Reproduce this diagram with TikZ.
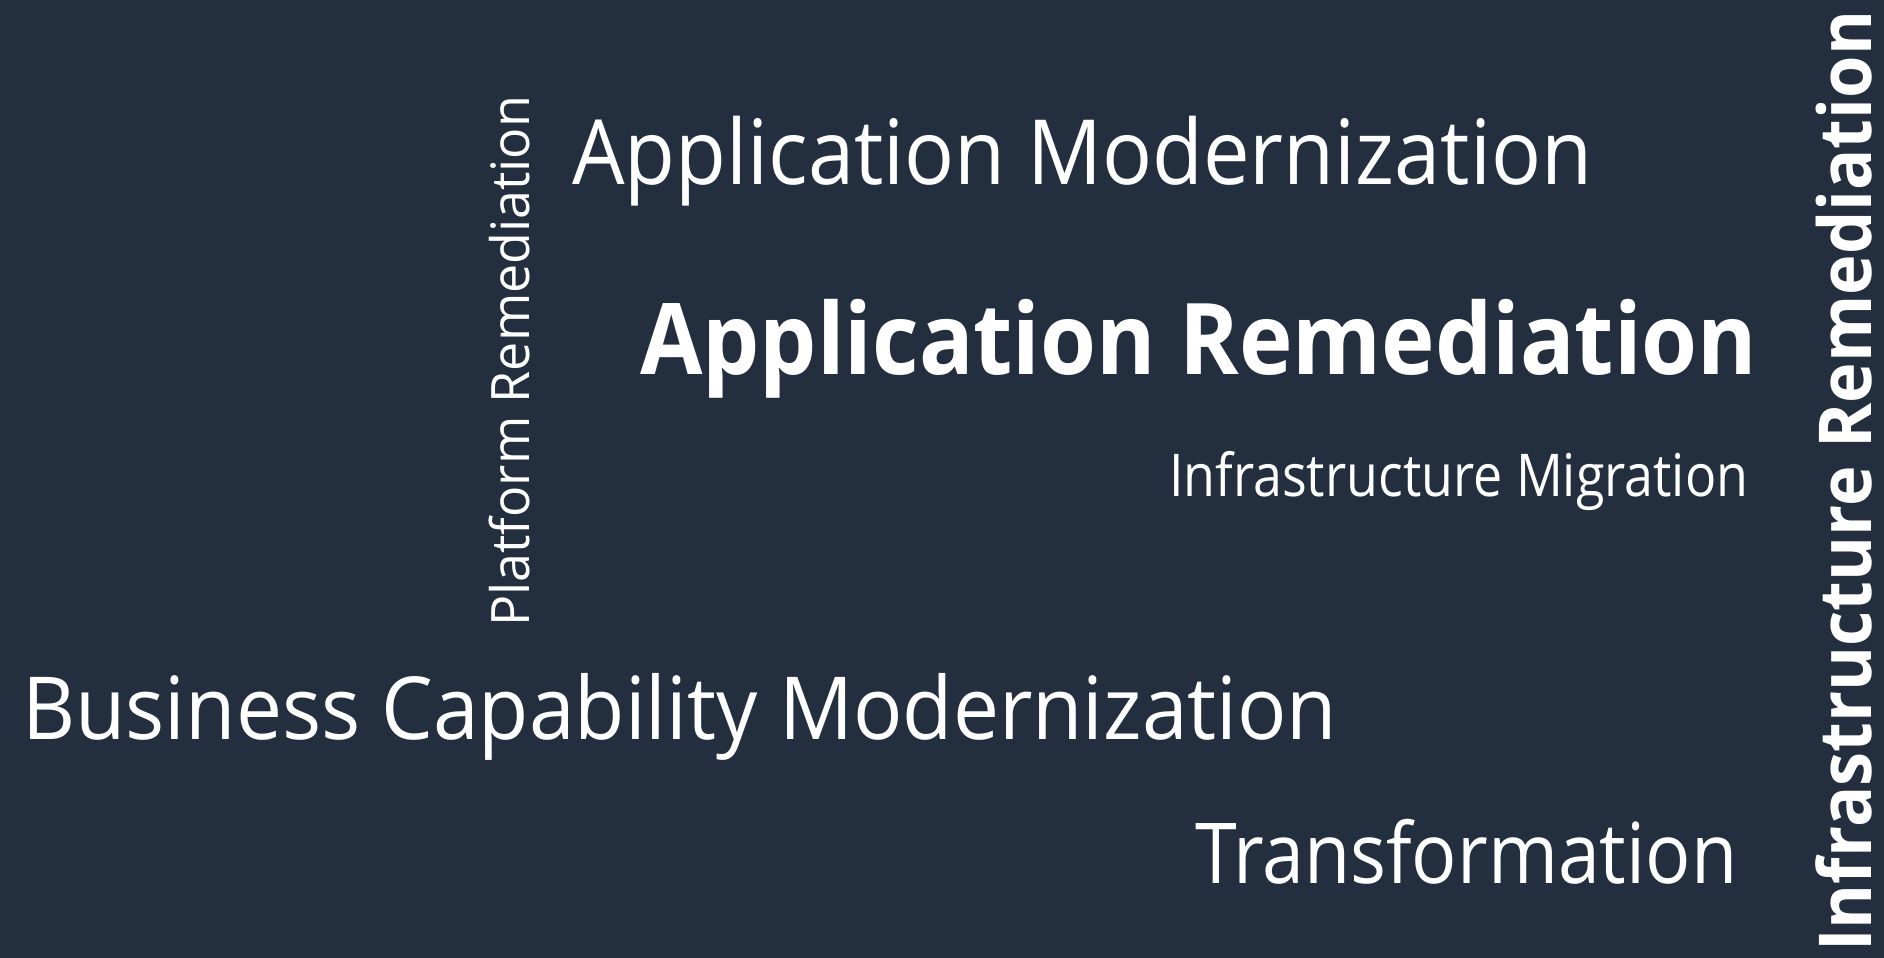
\documentclass[tikz,border=0pt]{standalone}
\usepackage{fontspec}
\setmainfont{Open Sans}
\definecolor{squidink}{HTML}{232F3E}
\newcommand{\fitw}[2]{\resizebox{#1}{\height}{#2}}
\begin{document}
\begin{tikzpicture}[x=1pt, y=-1pt, word/.style={text=white, inner sep=0pt, anchor=base west}]
\fill[squidink] (0,0) rectangle (1884,958);
\begin{scope}[every node/.style={word}]
\node[font=\fontsize{90}{90}\selectfont] (appmod) at (572,184) {\fitw{1020pt}{Application Modernization}};
\node[font=\fontsize{99}{99}\selectfont\bfseries] (apprem) at (640,374) {\fitw{1117pt}{Application Remediation}};
\node[font=\fontsize{59}{59}\selectfont] (infmig) at (1169,496) {\fitw{579pt}{Infrastructure Migration}};
\node[font=\fontsize{87}{87}\selectfont] (bizmod) at (22,739) {\fitw{1315pt}{Business Capability Modernization}};
\node[font=\fontsize{84}{84}\selectfont] (transf) at (1195,883) {\fitw{542pt}{Transformation}};
\node[font=\fontsize{53}{53}\selectfont, rotate=90] (platrem) at (529,627) {\fitw{531pt}{Platform Remediation}};
\node[font=\fontsize{73}{73}\selectfont\bfseries, rotate=90] (infrem) at (1871,952) {\fitw{941pt}{Infrastructure Remediation}};
%\node (x) at (,) {};
\end{scope}
\end{tikzpicture}
\end{document}
